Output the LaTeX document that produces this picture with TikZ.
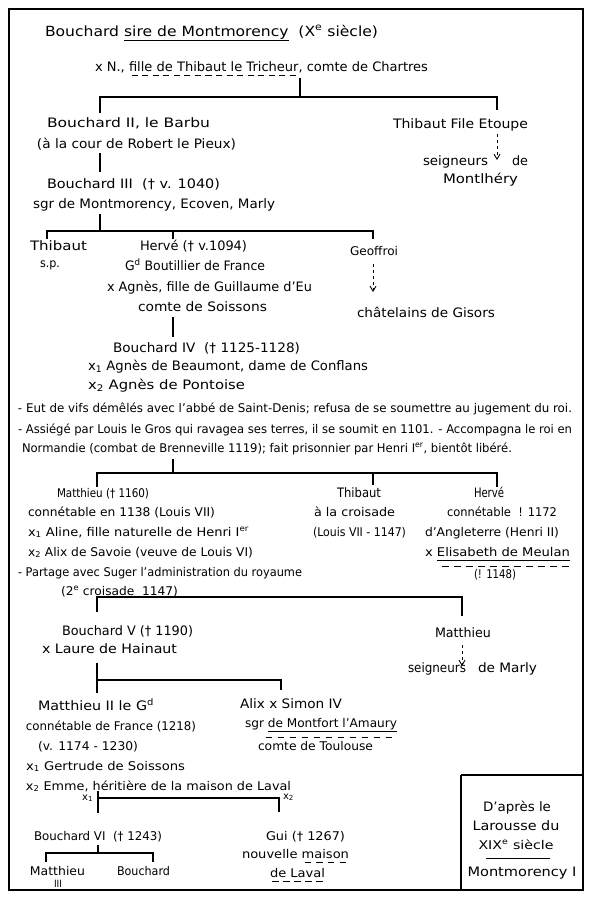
\documentclass[tikz,border=0pt]{standalone}
\usepackage{fontspec}
\setmainfont{DejaVu Sans}
\usepackage{graphicx}
\usetikzlibrary{arrows.meta}
\newcommand\dul[1]{\leavevmode\setbox0\hbox{#1\vphantom{gy}}\vtop{\offinterlineskip\hbox{\copy0}\kern1.5pt\hbox to\wd0{\xleaders\hbox{\kern2pt\vrule width 6pt height 0.9pt\kern2pt}\hfil}}}
\newcommand\sul[1]{\leavevmode\setbox0\hbox{#1\vphantom{gy}}\vtop{\offinterlineskip\hbox{\copy0}\kern1.5pt\hbox to\wd0{\vrule width\wd0 height 0.9pt}}}
\tikzset{
  txt/.style={inner sep=0pt, outer sep=0pt},
  mainf/.style={font=\fontsize{13}{16}\selectfont},
  smallf/.style={font=\fontsize{12}{14}\selectfont},
  tinyf/.style={font=\fontsize{10}{12}\selectfont},
  link/.style={line width=1.2pt},
  descent/.style={line width=0.9pt, dash pattern=on 3pt off 3pt, -{Straight Barb[length=5pt,width=6pt]}},
  frame/.style={line width=1.4pt}
}
\newcommand\Tx[5][mainf]{\node[txt,#1,anchor=base west] (#2) at (#3) {\resizebox{#4pt}{\height}{#5}};}
\newcommand\Tc[5][mainf]{\node[txt,#1,anchor=base] (#2) at (#3) {\resizebox{#4pt}{\height}{#5}};}
\begin{document}
\begin{tikzpicture}[x=1pt,y=-1pt]
\useasboundingbox (0,0) rectangle (589,900);
\fill[white] (0,0) rectangle (589,900);
\draw[frame] (9,9) rectangle (583,890);
\draw[frame] (461,775) -- (461,890);
\draw[frame] (461,775) -- (583,775);

% generation 1
\Tx[font=\fontsize{14}{16}\selectfont]{t1}{45,36}{333}{Bouchard \sul{sire de Montmorency}\ \ (X\textsuperscript{e} siècle)}
\Tx{t2}{95,71}{333}{x N., \dul{fille de Thibaut le Tricheur}, comte de Chartres}
\coordinate (j1) at (300,78);
\coordinate (j1h) at (300,97);
\coordinate (j1l) at (100,97);
\coordinate (j1r) at (497,97);
\coordinate (c1l) at (100,113);
\coordinate (c1r) at (497,110);
\draw[link] (j1) -- (j1h);
\draw[link] (c1l) -- (j1l) -- (j1r) -- (c1r);

% generation 2
\Tx{b2a}{47,127}{163}{Bouchard II, le Barbu}
\Tx{b2b}{37,148}{199}{(à la cour de Robert le Pieux)}
\Tx{tfe}{393,128}{135}{Thibaut File Etoupe}
\Tx{sgm}{423,165}{65}{seigneurs}
\Tx{sgmde}{512,165}{16}{de}
\Tx{mlh}{443,183}{75}{Montlhéry}
\coordinate (a1s) at (497,134);
\coordinate (a1e) at (497,160);
\draw[descent] (a1s) -- (a1e);
\coordinate (j2a) at (100,153);
\coordinate (j2b) at (100,172);
\draw[link] (j2a) -- (j2b);

% generation 3
\Tx{b3a}{47,188}{173}{Bouchard III\ \ († v. 1040)}
\Tx{b3b}{33,208}{242}{sgr de Montmorency, Ecoven, Marly}
\coordinate (j3) at (100,214);
\coordinate (j3h) at (100,231);
\coordinate (j3l) at (47,231);
\coordinate (j3m) at (173,231);
\coordinate (j3r) at (373,231);
\coordinate (c3l) at (47,239);
\coordinate (c3m) at (173,239);
\coordinate (c3r) at (373,239);
\draw[link] (j3) -- (j3h);
\draw[link] (c3l) -- (j3l) -- (j3r) -- (c3r);
\draw[link] (j3m) -- (c3m);

% generation 4
\Tx{th4}{30,250}{57}{Thibaut}
\Tx[smallf]{sp4}{40,267}{20}{s.p.}
\Tx{hv4a}{140,250}{107}{Hervé († v.1094)}
\Tx{hv4b}{125,270}{140}{G\textsuperscript{d} Boutillier de France}
\Tx{hv4c}{107,291}{205}{x Agnès, fille de Guillaume d'Eu}
\Tx{hv4d}{138,311}{129}{comte de Soissons}
\Tx[smallf]{ge4}{350,255}{48}{Geoffroi}
\Tx{gi4}{357,317}{138}{châtelains de Gisors}
\coordinate (a2s) at (373,264);
\coordinate (a2e) at (373,292);
\draw[descent] (a2s) -- (a2e);
\coordinate (j4a) at (173,317);
\coordinate (j4b) at (173,337);
\draw[link] (j4a) -- (j4b);

% generation 5
\Tx{b4a}{113,352}{187}{Bouchard IV\ \ († 1125-1128)}
\Tx{b4b}{88,370}{280}{x\textsubscript{1} Agnès de Beaumont, dame de Conflans}
\Tx{b4c}{88,389}{157}{x\textsubscript{2} Agnès de Pontoise}
\Tx[smallf]{n1}{18,412}{554}{- Eut de vifs démêlés avec l'abbé de Saint-Denis; refusa de se soumettre au jugement du roi.}
\Tx[smallf]{n2}{18,433}{554}{- Assiégé par Louis le Gros qui ravagea ses terres, il se soumit en 1101. - Accompagna le roi en}
\Tx[smallf]{n3}{22,452}{490}{Normandie (combat de Brenneville 1119); fait prisonnier par Henri I\textsuperscript{er}, bientôt libéré.}
\coordinate (j5) at (173,459);
\coordinate (j5h) at (173,473);
\coordinate (j5l) at (97,473);
\coordinate (j5m) at (373,473);
\coordinate (j5r) at (497,473);
\coordinate (c5l) at (97,487);
\coordinate (c5m) at (373,485);
\coordinate (c5r) at (497,487);
\draw[link] (j5) -- (j5h);
\draw[link] (c5l) -- (j5l) -- (j5r) -- (c5r);
\draw[link] (j5m) -- (c5m);

% generation 6
\Tx[smallf]{m6a}{57,497}{92}{Matthieu († 1160)}
\Tx[smallf]{m6b}{28,516}{187}{connétable en 1138 (Louis VII)}
\Tx[smallf]{m6c}{28,536}{221}{x\textsubscript{1} Aline, fille naturelle de Henri I\textsuperscript{er}}
\Tx[smallf]{m6d}{28,556}{225}{x\textsubscript{2} Alix de Savoie (veuve de Louis VI)}
\Tx[smallf]{m6e}{18,576}{284}{- Partage avec Suger l'administration du royaume}
\Tx[smallf]{m6f}{61,595}{117}{(2\textsuperscript{e} croisade\ \ 1147)}
\Tx{t6a}{337,497}{44}{Thibaut}
\Tx[smallf]{t6b}{314,516}{81}{à la croisade}
\Tx[smallf]{t6c}{313,536}{93}{(Louis VII - 1147)}
\Tx{h6a}{474,497}{30}{Hervé}
\Tx[smallf]{h6b}{447,516}{110}{connétable\ \ ! 1172}
\Tx[smallf]{h6c}{425,536}{134}{d'Angleterre (Henri II)}
\Tx[smallf]{h6d}{425,556}{145}{x \sul{Elisabeth de Meulan}}
\Tx[smallf]{h6e}{474,578}{42}{(! 1148)}
\coordinate (d6s) at (442,566);
\coordinate (d6e) at (570,566);
\draw[line width=1pt, dash pattern=on 7pt off 5pt] (d6s) -- (d6e);
\coordinate (j6) at (97,601);
\coordinate (j6h) at (97,597);
\coordinate (j6r) at (462,597);
\coordinate (c6l) at (97,612);
\coordinate (c6r) at (462,616);
\draw[link] (j6) -- (c6l);
\draw[link] (j6) -- (j6h) -- (j6r) -- (c6r);

% generation 7
\Tx{b5a}{62,635}{131}{Bouchard V († 1190)}
\Tx{b5b}{42,653}{135}{x Laure de Hainaut}
\Tx{m7}{435,637}{56}{Matthieu}
\Tx{sm7}{408,672}{58}{seigneurs}
\Tx{sm7b}{478,672}{59}{de Marly}
\coordinate (a3s) at (462,645);
\coordinate (a3e) at (462,666);
\draw[descent] (a3s) -- (a3e);
\coordinate (j7) at (97,663);
\coordinate (j7h) at (97,680);
\coordinate (j7r) at (281,680);
\coordinate (c7l) at (97,693);
\coordinate (c7r) at (281,690);
\draw[link] (j7) -- (c7l);
\draw[link] (j7h) -- (j7r) -- (c7r);

% generation 8
\Tx{m8a}{38,710}{116}{Matthieu II le G\textsuperscript{d}}
\Tx[smallf]{m8b}{26,730}{170}{connétable de France (1218)}
\Tx[smallf]{m8c}{38,750}{100}{(v. 1174 - 1230)}
\Tx[smallf]{m8d}{26,770}{159}{x\textsubscript{1} Gertrude de Soissons}
\Tx[smallf]{m8e}{26,790}{265}{x\textsubscript{2} Emme, héritière de la maison de Laval}
\Tx{al8a}{240,708}{102}{Alix x Simon IV}
\Tx[smallf]{al8b}{245,727}{152}{sgr \sul{de Montfort l'Amaury}}
\Tx[smallf]{al8c}{258,750}{115}{comte de Toulouse}
\coordinate (d8s) at (266,737);
\coordinate (d8e) at (397,737);
\draw[line width=0.9pt, dash pattern=on 6pt off 6pt] (d8s) -- (d8e);
\node[txt,tinyf,anchor=base east] (x1) at (93,800) {x\textsubscript{1}};
\node[txt,tinyf,anchor=base west] (x2) at (283,799) {x\textsubscript{2}};
\coordinate (j8l) at (98,791);
\coordinate (j8h) at (98,798);
\coordinate (j8r) at (279,798);
\coordinate (c8l) at (98,813);
\coordinate (c8r) at (279,812);
\draw[link] (j8l) -- (c8l);
\draw[link] (j8h) -- (j8r) -- (c8r);

% generation 9
\Tx[smallf]{b9}{34,840}{128}{Bouchard VI\ \ († 1243)}
\Tx[smallf]{g9a}{266,840}{79}{Gui († 1267)}
\Tx[smallf]{g9b}{242,858}{107}{nouvelle \dul{maison}}
\Tx[smallf]{g9c}{270,877}{55}{\dul{de Laval}}
\coordinate (j9) at (98,845);
\coordinate (j9h) at (98,853);
\coordinate (j9l) at (46,853);
\coordinate (j9r) at (153,853);
\coordinate (c9l) at (46,862);
\coordinate (c9r) at (153,862);
\draw[link] (j9) -- (j9h);
\draw[link] (c9l) -- (j9l) -- (j9r) -- (c9r);

% generation 10
\Tx[smallf]{m10}{30,875}{55}{Matthieu}
\Tc[tinyf]{m10b}{58,887}{8}{III}
\Tx[smallf]{bo10}{117,875}{53}{Bouchard}

% box
\Tc{bx1}{517,811}{68}{D'après le}
\Tc{bx2}{516,830}{87}{Larousse du}
\Tc[smallf]{bx3}{516,849}{75}{XIX\textsuperscript{e} siècle}
\coordinate (bxl) at (486,858);
\coordinate (bxr) at (550,858);
\draw[line width=1pt] (bxl) -- (bxr);
\Tc{bx4}{522,876}{109}{Montmorency I}
\end{tikzpicture}
\end{document}
